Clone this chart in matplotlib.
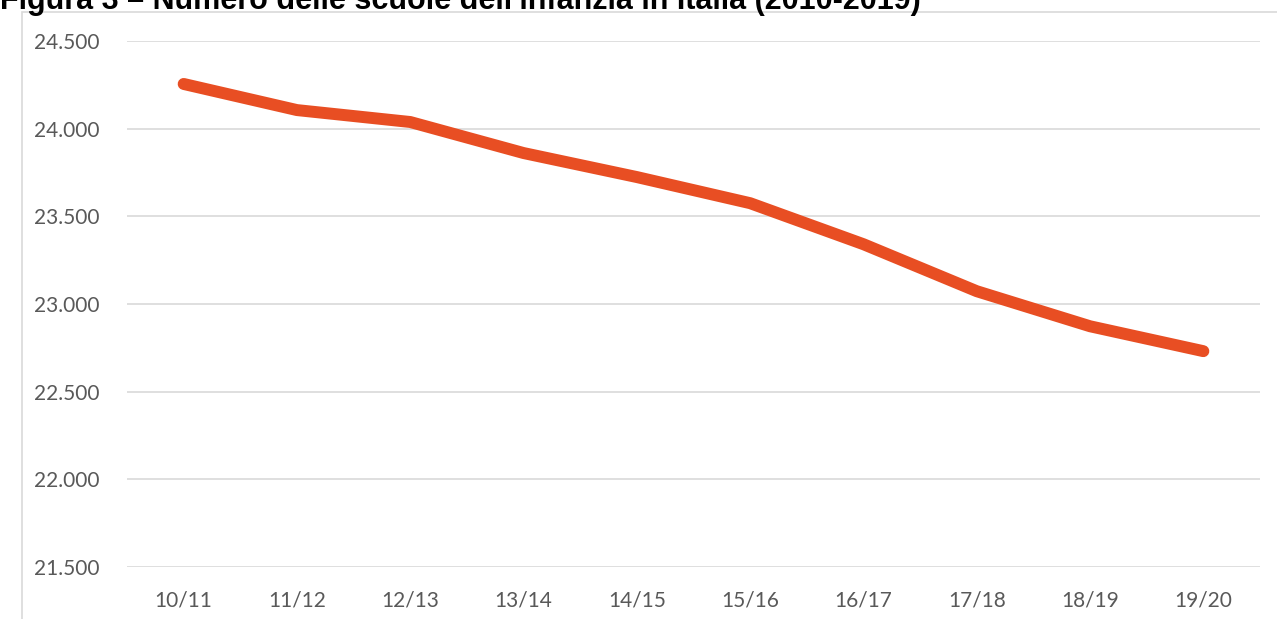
import matplotlib.pyplot as plt
from matplotlib.patches import Rectangle
from matplotlib.ticker import FuncFormatter

# anni scolastici e numero di scuole dell'infanzia
anni = ["10/11", "11/12", "12/13", "13/14", "14/15",
        "15/16", "16/17", "17/18", "18/19", "19/20"]
scuole = [24255, 24106, 24038, 23861, 23724,
          23575, 23341, 23073, 22873, 22731]
y_ticks = [21500, 22000, 22500, 23000, 23500, 24000, 24500]

W, H = 1277, 619
fig = plt.figure(figsize=(W / 100, H / 100), dpi=100)
fig.patch.set_facecolor("white")

# cornice grigia del grafico (tagliata a destra e in basso)
fig.patches.append(Rectangle((22 / W, -0.1), 1.2, 1 - 12 / H + 0.1,
                             transform=fig.transFigure, fill=False,
                             edgecolor="#d9d9d9", linewidth=1.2))

# titolo, tagliato in alto come nell'originale
fig.text(0, 1 - 9 / H, "Figura 3 – Numero delle scuole dell'infanzia in Italia (2010-2019)",
         fontsize=22, fontweight="bold", family="Liberation Sans",
         va="baseline", ha="left", color="black")

ax = fig.add_axes([127 / W, 1 - 567 / H, (1260 - 127) / W, (567 - 41) / H])
x = range(len(anni))
ax.plot(x, scuole, color="#E84E23", linewidth=8.6, solid_capstyle="round",
        solid_joinstyle="round")

ax.set_xlim(-0.5, len(anni) - 0.5)
ax.set_ylim(21500, 24500)
ax.set_yticks(y_ticks)
ax.yaxis.set_major_formatter(FuncFormatter(lambda v, p: f"{int(v):,}".replace(",", ".")))
ax.set_xticks(list(x))
ax.set_xticklabels(anni)

ax.grid(axis="y", color="#d9d9d9", linewidth=1.2)
ax.set_axisbelow(True)
for s in ax.spines.values():
    s.set_visible(False)
ax.tick_params(length=0, labelsize=15, labelcolor="#595959")
ax.tick_params(axis="y", pad=20)
ax.tick_params(axis="x", pad=17)
for lab in ax.get_xticklabels() + ax.get_yticklabels():
    lab.set_family("Lato")

fig.savefig("out.png", dpi=100, facecolor="white")
